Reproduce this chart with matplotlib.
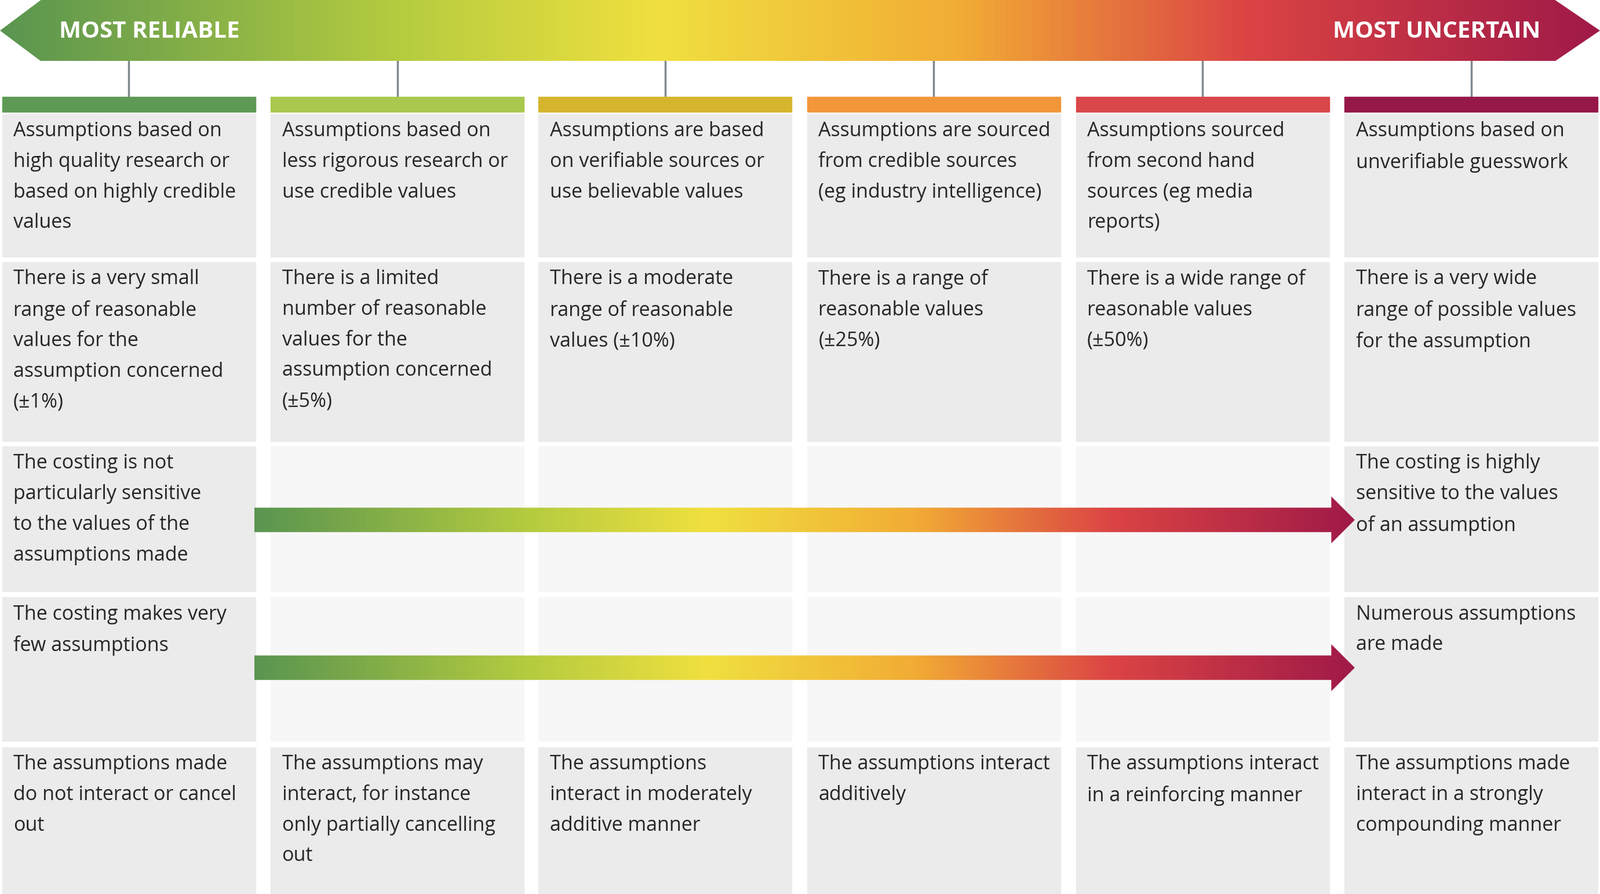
import matplotlib
matplotlib.use("Agg")
import matplotlib.pyplot as plt
import numpy as np
from matplotlib.colors import LinearSegmentedColormap
from matplotlib.patches import Polygon, Rectangle

plt.rcParams["font.family"] = "Open Sans"

# content
header_left = "MOST RELIABLE"
header_right = "MOST UNCERTAIN"
col_colors = ["#5e9a55", "#a9c94e", "#d6b52e", "#f2963a", "#d9474a", "#961849"]
row1 = ["Assumptions based on\nhigh quality research or\nbased on highly credible\nvalues",
        "Assumptions based on\nless rigorous research or\nuse credible values",
        "Assumptions are based\non verifiable sources or\nuse believable values",
        "Assumptions are sourced\nfrom credible sources\n(eg industry intelligence)",
        "Assumptions sourced\nfrom second hand\nsources (eg media\nreports)",
        "Assumptions based on\nunverifiable guesswork"]
row2 = ["There is a very small\nrange of reasonable\nvalues for the\nassumption concerned\n(±1%)",
        "There is a limited\nnumber of reasonable\nvalues for the\nassumption concerned\n(±5%)",
        "There is a moderate\nrange of reasonable\nvalues (±10%)",
        "There is a range of\nreasonable values\n(±25%)",
        "There is a wide range of\nreasonable values\n(±50%)",
        "There is a very wide\nrange of possible values\nfor the assumption"]
row3 = ["The costing is not\nparticularly sensitive\nto the values of the\nassumptions made",
        "The costing is highly\nsensitive to the values\nof an assumption"]
row4 = ["The costing makes very\nfew assumptions",
        "Numerous assumptions\nare made"]
row5 = ["The assumptions made\ndo not interact or cancel\nout",
        "The assumptions may\ninteract, for instance\nonly partially cancelling\nout",
        "The assumptions\ninteract in moderately\nadditive manner",
        "The assumptions interact\nadditively",
        "The assumptions interact\nin a reinforcing manner",
        "The assumptions made\ninteract in a strongly\ncompounding manner"]

grad = LinearSegmentedColormap.from_list("g", [
    (0.0, "#5a9550"), (0.25, "#b5cc3f"), (0.41, "#f0e040"),
    (0.6, "#f2ac35"), (0.78, "#db4444"), (1.0, "#a01a48")])

W, H = 1566, 877
fig = plt.figure(figsize=(27.61, 15.42), dpi=100)
ax = fig.add_axes([0, 0, 1, 1])
ax.set_xlim(0, W)
ax.set_ylim(H, 0)
ax.axis("off")

def grad_poly(pts, x0, x1, y0, y1):
    poly = Polygon(pts, closed=True, facecolor="none", edgecolor="none")
    ax.add_patch(poly)
    im = ax.imshow(np.linspace(0, 1, 512)[None, :], cmap=grad, aspect="auto",
                   extent=(x0, x1, y1, y0), zorder=3)
    im.set_clip_path(poly)

# top banner arrow
grad_poly([(0, 30), (40, 0), (1522, 0), (1566, 30), (1522, 60), (40, 60)], 0, W, 0, 60)
ax.text(58, 31, header_left, color="white", fontsize=29, fontweight="bold", va="center", zorder=4)
ax.text(1508, 31, header_right, color="white", fontsize=29, fontweight="bold", va="center", ha="right", zorder=4)

xs = [2, 265, 527, 790, 1053, 1316]
cw = 248
rows_y = [(112, 252), (257, 433), (438, 580), (586, 727), (733, 877)]
for i, x in enumerate(xs):
    ax.plot([x + cw / 2] * 2, [60, 95], color="#7f8a90", lw=2.5, zorder=1)
    ax.add_patch(Rectangle((x, 95), cw, 15, color=col_colors[i], zorder=2))
    for r, (y0, y1) in enumerate(rows_y):
        light = r in (2, 3) and 0 < i < 5
        ax.add_patch(Rectangle((x, y0), cw, y1 - y0, color="#f7f7f7" if light else "#ebebeb", zorder=1))

def cell_text(ci, ri, s):
    ax.text(xs[ci] + 11, rows_y[ri][0] + 7, s, fontsize=24.5, color="#262626",
            va="top", ha="left", linespacing=1.72, zorder=5)

for i in range(6):
    cell_text(i, 0, row1[i])
    cell_text(i, 1, row2[i])
    cell_text(i, 4, row5[i])
cell_text(0, 2, row3[0]); cell_text(5, 2, row3[1])
cell_text(0, 3, row4[0]); cell_text(5, 3, row4[1])

# horizontal gradient arrows
for yc in (510, 655):
    grad_poly([(249, yc - 12), (1303, yc - 12), (1303, yc - 23), (1326, yc),
               (1303, yc + 23), (1303, yc + 12), (249, yc + 12)], 249, 1326, yc - 23, yc + 23)

fig.savefig("out.png", dpi=100)
